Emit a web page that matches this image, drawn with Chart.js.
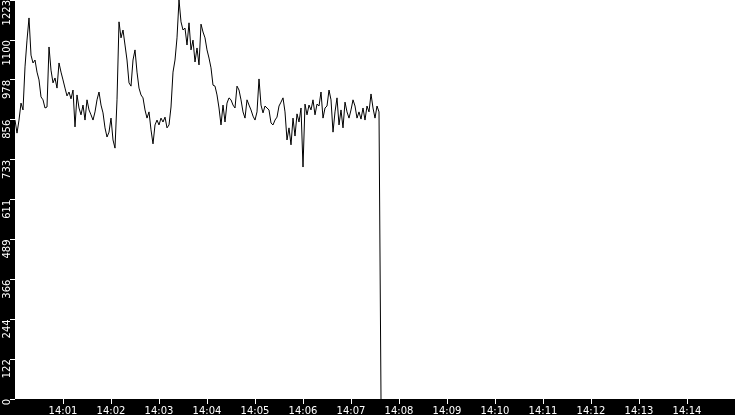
<!DOCTYPE html>
<html>
<head>
<meta charset="utf-8">
<script src="https://cdn.jsdelivr.net/npm/chart.js@4/dist/chart.umd.min.js"></script>
<style>
  html, body { margin: 0; padding: 0; background: #000; }
  #wrap { width: 735px; height: 415px; }
</style>
</head>
<body>
<div id="wrap"><canvas id="chart"></canvas></div>
<script>
// ── Data ─────────────────────────────────────────────────────────────────
// samples start at 14:00:00, one every 2.5 s
const START_HOUR = 14;
const SAMPLE_STEP_S = 2.5;
const X_MAX_S = 900;          // 14:00 → 14:15
const Y_MAX = 1223;
const Y_TICKS = [0, 122, 244, 366, 489, 611, 733, 856, 978, 1100, 1223];

const values = [
  855, 815, 855, 907, 886, 1018, 1100, 1168, 1054, 1030,
  1039, 1002, 978, 926, 917, 892, 895, 1079, 1008, 969,
  984, 953, 1030, 1002, 978, 953, 929, 941, 920, 947,
  834, 932, 892, 871, 901, 855, 917, 886, 871, 855,
  880, 917, 941, 901, 877, 831, 803, 818, 861, 794,
  769, 917, 1156, 1107, 1131, 1085, 1039, 969, 959, 1039,
  1070, 1002, 953, 932, 923, 886, 861, 880, 825, 782,
  840, 855, 840, 861, 849, 864, 831, 840, 895, 1002,
  1039, 1107, 1223, 1156, 1131, 1137, 1085, 1153, 1070, 1100,
  1033, 1076, 1024, 1149, 1125, 1107, 1070, 1045, 1015, 962,
  959, 932, 892, 840, 901, 849, 907, 923, 917, 901,
  892, 959, 947, 917, 880, 861, 917, 901, 886, 867,
  855, 880, 981, 901, 877, 898, 892, 886, 846, 840,
  855, 864, 898, 910, 923, 880, 794, 831, 779, 861,
  806, 874, 849, 892, 711, 904, 871, 901, 886, 917,
  871, 904, 898, 941, 861, 892, 898, 947, 917, 818,
  880, 923, 840, 886, 831, 910, 880, 861, 886, 917,
  898, 861, 880, 858, 892, 855, 898, 880, 935, 892,
  861, 898, 880, 0,
];

const points = values.map((v, i) => ({ x: i * SAMPLE_STEP_S, y: v }));

// black frame, white plot area
const plotBackground = {
  id: "plotBackground",
  beforeDraw(chart) {
    const { ctx, chartArea: a } = chart;
    ctx.save();
    ctx.fillStyle = "#000";
    ctx.fillRect(0, 0, chart.width, chart.height);
    ctx.fillStyle = "#fff";
    ctx.fillRect(a.left, a.top, a.right - a.left, a.bottom - a.top);
    ctx.restore();
  },
};

const pad2 = n => String(n).padStart(2, "0");

new Chart(document.getElementById("chart"), {
  type: "line",
  data: {
    datasets: [{
      data: points,
      borderColor: "#000",
      borderWidth: 1,
      pointRadius: 0,
      tension: 0,
      fill: false,
    }],
  },
  options: {
    responsive: true,
    maintainAspectRatio: false,
    animation: false,
    layout: { padding: 0 },
    plugins: {
      legend: { display: false },
      tooltip: { enabled: false },
    },
    scales: {
      x: {
        type: "linear",
        min: 0,
        max: X_MAX_S,
        afterFit: s => {
          s.height = 16;
          s.paddingLeft = 0;
          s.paddingRight = 0;
        },
        afterBuildTicks: s => {
          s.ticks = s.ticks.filter(t => t.value > 0 && t.value < X_MAX_S);
        },
        grid: { drawOnChartArea: false, drawTicks: true, tickLength: 5, color: "#fff" },
        border: { display: false },
        ticks: {
          stepSize: 60,
          autoSkip: false,
          maxRotation: 0,
          padding: 1,
          color: "#fff",
          font: { family: "'DejaVu Sans', sans-serif", size: 10 },
          callback: v => `${START_HOUR}:${pad2(Math.round(v / 60))}`,
        },
      },
      y: {
        min: 0,
        max: Y_MAX,
        afterFit: s => {
          s.width = 15;
          s.paddingTop = 0;
          s.paddingBottom = 0;
        },
        afterBuildTicks: s => {
          s.ticks = Y_TICKS.map(v => ({ value: v }));
        },
        grid: { drawOnChartArea: false, drawTicks: true, tickLength: 5, color: "#fff" },
        border: { display: false },
        ticks: {
          minRotation: 90,
          maxRotation: 90,
          padding: 3,
          color: "#fff",
          font: { family: "'DejaVu Sans', sans-serif", size: 10 },
          callback: v => String(v),
        },
      },
    },
  },
  plugins: [plotBackground],
});
</script>
</body>
</html>
